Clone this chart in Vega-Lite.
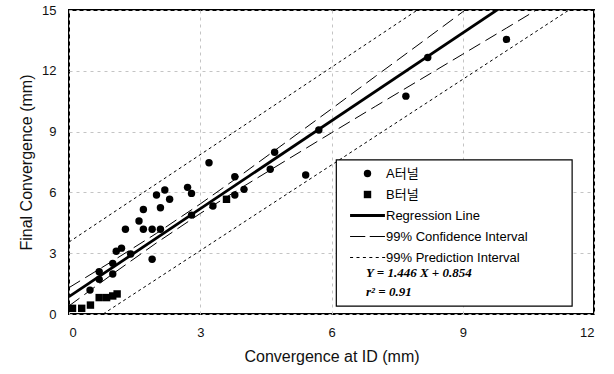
{
  "$schema": "https://vega.github.io/schema/vega-lite/v6.json",
  "width": 525,
  "height": 304,
  "autosize": {"type": "none"},
  "padding": {"left": 69, "top": 10, "right": 20, "bottom": 60},
  "background": "white",
  "config": {
    "view": {"stroke": "black", "strokeWidth": 2},
    "axis": {
      "labelFont": "Liberation Sans",
      "titleFont": "Liberation Sans",
      "labelFontSize": 13,
      "titleFontSize": 16,
      "titleFontWeight": "normal",
      "labelColor": "#111",
      "titleColor": "#111",
      "ticks": false,
      "domain": false,
      "grid": true,
      "gridColor": "#c4c4c4",
      "gridDash": [3, 4],
      "gridWidth": 1
    },
    "legend": {
      "title": null,
      "orient": "none",
      "legendX": 292,
      "legendY": 157,
      "padding": 0,
      "labelFont": "Liberation Sans, Noto Sans CJK KR",
      "labelFontSize": 13,
      "labelColor": "black",
      "labelOffset": 12,
      "rowPadding": 7,
      "symbolSize": 55,
      "symbolStrokeColor": "black",
      "symbolFillColor": "black",
      "symbolStrokeWidth": 0.5
    }
  },
  "datasets": {
    "pts": [
      {"series": "A터널", "x": 0.48, "y": 1.18},
      {"series": "A터널", "x": 0.69, "y": 1.71},
      {"series": "A터널", "x": 0.69, "y": 2.09},
      {"series": "A터널", "x": 1.0, "y": 1.97},
      {"series": "A터널", "x": 1.0, "y": 2.5},
      {"series": "A터널", "x": 1.08, "y": 3.1},
      {"series": "A터널", "x": 1.2, "y": 3.25},
      {"series": "A터널", "x": 1.41, "y": 2.96},
      {"series": "A터널", "x": 1.29, "y": 4.18},
      {"series": "A터널", "x": 1.6, "y": 4.59},
      {"series": "A터널", "x": 1.7, "y": 4.18},
      {"series": "A터널", "x": 1.7, "y": 5.16},
      {"series": "A터널", "x": 1.9, "y": 4.18},
      {"series": "A터널", "x": 1.9, "y": 2.7},
      {"series": "A터널", "x": 2.09, "y": 4.18},
      {"series": "A터널", "x": 2.09, "y": 5.24},
      {"series": "A터널", "x": 2.0, "y": 5.87},
      {"series": "A터널", "x": 2.19, "y": 6.12},
      {"series": "A터널", "x": 2.3, "y": 5.66},
      {"series": "A터널", "x": 2.71, "y": 6.25},
      {"series": "A터널", "x": 2.8, "y": 5.95},
      {"series": "A터널", "x": 2.8, "y": 4.88},
      {"series": "A터널", "x": 3.2, "y": 7.46},
      {"series": "A터널", "x": 3.29, "y": 5.33},
      {"series": "A터널", "x": 3.79, "y": 6.77},
      {"series": "A터널", "x": 3.79, "y": 5.87},
      {"series": "A터널", "x": 4.0, "y": 6.15},
      {"series": "A터널", "x": 4.6, "y": 7.14},
      {"series": "A터널", "x": 4.7, "y": 7.98},
      {"series": "A터널", "x": 5.41, "y": 6.86},
      {"series": "A터널", "x": 5.71, "y": 9.08},
      {"series": "A터널", "x": 7.7, "y": 10.75},
      {"series": "A터널", "x": 8.2, "y": 12.66},
      {"series": "A터널", "x": 10.0, "y": 13.55},
      {"series": "B터널", "x": 0.08, "y": 0.28},
      {"series": "B터널", "x": 0.29, "y": 0.28},
      {"series": "B터널", "x": 0.49, "y": 0.44},
      {"series": "B터널", "x": 0.69, "y": 0.81},
      {"series": "B터널", "x": 0.86, "y": 0.81},
      {"series": "B터널", "x": 1.0, "y": 0.89},
      {"series": "B터널", "x": 1.1, "y": 0.99},
      {"series": "B터널", "x": 3.6, "y": 5.66}
    ],
    "reg": [
      {"x": 0, "y": 0.854},
      {"x": 10, "y": 15.314}
    ],
    "ci": [
      {"part": "upper", "x": 0, "y": 1.3},
      {"part": "upper", "x": 1, "y": 2.62},
      {"part": "upper", "x": 2, "y": 3.98},
      {"part": "upper", "x": 3, "y": 5.43},
      {"part": "upper", "x": 4, "y": 6.96},
      {"part": "upper", "x": 5, "y": 8.54},
      {"part": "upper", "x": 6, "y": 10.12},
      {"part": "upper", "x": 7, "y": 11.72},
      {"part": "upper", "x": 8, "y": 13.31},
      {"part": "upper", "x": 9, "y": 14.91},
      {"part": "upper", "x": 10, "y": 16.51},
      {"part": "lower", "x": 0, "y": 0.4},
      {"part": "lower", "x": 1, "y": 1.98},
      {"part": "lower", "x": 2, "y": 3.51},
      {"part": "lower", "x": 3, "y": 4.96},
      {"part": "lower", "x": 4, "y": 6.31},
      {"part": "lower", "x": 5, "y": 7.63},
      {"part": "lower", "x": 6, "y": 8.94},
      {"part": "lower", "x": 7, "y": 10.24},
      {"part": "lower", "x": 8, "y": 11.53},
      {"part": "lower", "x": 9, "y": 12.82},
      {"part": "lower", "x": 10, "y": 14.11},
      {"part": "lower", "x": 11, "y": 15.41}
    ],
    "pi": [
      {"part": "upper", "x": 0, "y": 3.55},
      {"part": "upper", "x": 8, "y": 15.05},
      {"part": "lower", "x": 0.78, "y": 0},
      {"part": "lower", "x": 11.5, "y": 15.1}
    ],
    "eq": [
      {"label": "Y = 1.446 X + 0.854", "x": 6.79, "y": 2.01},
      {"label": "r² = 0.91", "x": 6.79, "y": 1.1}
    ]
  },
  "layer": [
    {
      "data": {"name": "reg"},
      "mark": {"type": "line", "clip": true, "color": "black", "strokeWidth": 2.8},
      "encoding": {
        "x": {
          "field": "x",
          "type": "quantitative",
          "scale": {"domain": [0, 12], "nice": false},
          "axis": {"title": "Convergence at ID (mm)", "values": [0, 3, 6, 9, 12], "labelPadding": 12, "titlePadding": 9}
        },
        "y": {
          "field": "y",
          "type": "quantitative",
          "scale": {"domain": [0, 15], "nice": false},
          "axis": {"title": "Final Convergence (mm)", "values": [0, 3, 6, 9, 12, 15], "labelPadding": 13, "titlePadding": 7}
        }
      }
    },
    {
      "data": {"name": "ci"},
      "mark": {"type": "line", "clip": true, "color": "black", "strokeWidth": 1, "strokeDash": [13, 6]},
      "encoding": {
        "x": {"field": "x", "type": "quantitative"},
        "y": {"field": "y", "type": "quantitative"},
        "detail": {"field": "part"}
      }
    },
    {
      "data": {"name": "pi"},
      "mark": {"type": "line", "clip": true, "color": "black", "strokeWidth": 1, "strokeDash": [3, 3]},
      "encoding": {
        "x": {"field": "x", "type": "quantitative"},
        "y": {"field": "y", "type": "quantitative"},
        "detail": {"field": "part"}
      }
    },
    {
      "data": {"name": "pts"},
      "mark": {"type": "point", "filled": true, "color": "black", "size": 55, "opacity": 1},
      "encoding": {
        "x": {"field": "x", "type": "quantitative"},
        "y": {"field": "y", "type": "quantitative"},
        "shape": {
          "field": "series",
          "type": "nominal",
          "scale": {
            "domain": ["A터널", "B터널", "Regression Line", "99% Confidence Interval", "99% Prediction Interval"],
            "range": [
              "circle",
              "square",
              "M-4.7,-0.38H4.7V0.38H-4.7Z",
              "M-4.7,-0.14H-0.6V0.14H-4.7ZM0.6,-0.14H4.7V0.14H0.6Z",
              "M-4.7,-0.14H-3.89V0.14H-4.7ZM-2.97,-0.14H-2.16V0.14H-2.97ZM-1.24,-0.14H-0.43V0.14H-1.24ZM0.49,-0.14H1.3V0.14H0.49ZM2.22,-0.14H3.03V0.14H2.22ZM3.95,-0.14H4.76V0.14H3.95Z"
            ]
          }
        }
      }
    },
    {
      "data": {"values": [{"box": 1}]},
      "mark": {"type": "rect", "fill": "white", "stroke": "black", "strokeWidth": 1.2},
      "encoding": {
        "x": {"datum": 6.11, "type": "quantitative"},
        "x2": {"datum": 11.5},
        "y": {"datum": 7.6, "type": "quantitative"},
        "y2": {"datum": 0.39}
      }
    },
    {
      "data": {"name": "eq"},
      "mark": {"type": "text", "align": "left", "baseline": "middle", "font": "Liberation Serif", "fontSize": 13, "fontWeight": "bold", "fontStyle": "italic", "color": "black"},
      "encoding": {
        "x": {"field": "x", "type": "quantitative"},
        "y": {"field": "y", "type": "quantitative"},
        "text": {"field": "label"}
      }
    }
  ]
}
